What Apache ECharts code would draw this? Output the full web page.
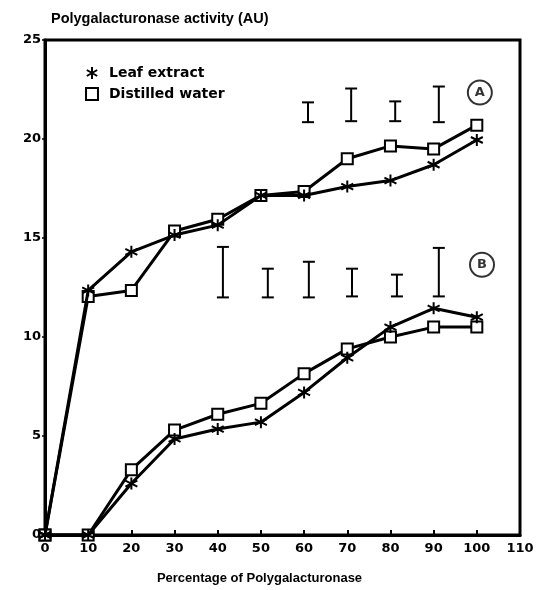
<!DOCTYPE html>
<html>
<head>
<meta charset="utf-8">
<script src="https://cdn.jsdelivr.net/npm/echarts@6/dist/echarts.min.js"></script>
<style>html,body{margin:0;padding:0;background:#fff;}#c{width:543px;height:590px;}</style>
</head>
<body>
<div id="c"></div>
<script>
var xValues = [0, 10, 20, 30, 40, 50, 60, 70, 80, 90, 100];
var leafA  = [0, 12.35, 14.3, 15.15, 15.65, 17.15, 17.15, 17.6, 17.9, 18.7, 19.95];
var waterA = [0, 12.05, 12.35, 15.35, 15.95, 17.15, 17.35, 19.0, 19.65, 19.5, 20.7];
var leafB  = [0, 0, 2.6, 4.85, 5.35, 5.7, 7.2, 8.95, 10.5, 11.45, 11.0];
var waterB = [0, 0, 3.3, 5.3, 6.1, 6.65, 8.15, 9.4, 10.0, 10.5, 10.5];
// error bars: [x, low, high]
var errA = [[60.9, 20.85, 21.85], [70.9, 20.9, 22.55], [81.1, 20.9, 21.9], [91.2, 20.85, 22.65]];
var errB = [[41.2, 12.0, 14.55], [51.6, 12.0, 13.45], [61.1, 12.0, 13.8], [71.1, 12.05, 13.45], [81.5, 12.05, 13.15], [91.2, 12.05, 14.5]];
var groupLabels = [[100.7, 22.35, 'A'], [101.2, 13.65, 'B']];
var xTicks = {min: 0, max: 110, interval: 10};
var yTicks = {min: 0, max: 25, interval: 5};

var star = 'path://M0,-10L0,10M-8.7,-5L8.7,5M-8.7,5L8.7,-5';
function pairs(ys) { return xValues.map(function (x, i) { return [x, ys[i]]; }); }
var font = 'Liberation Sans, Arial, sans-serif';
var heavy = 'DejaVu Sans, Liberation Sans, sans-serif';

function lineSeries(name, ys, symbol) {
  var isStar = symbol === star;
  return {
    name: name, type: 'line', data: pairs(ys),
    symbol: symbol, symbolSize: isStar ? 12 : 11,
    showAllSymbol: true,
    lineStyle: {color: '#000', width: 3},
    itemStyle: {color: isStar ? 'rgba(0,0,0,0)' : '#fff', borderColor: '#000', borderWidth: 2},
    z: isStar ? 4 : 3,
    animation: false
  };
}
function errSeries(data) {
  return {
    type: 'custom', data: data, silent: true, animation: false,
    renderItem: function (params, api) {
      var x = api.value(0);
      var p1 = api.coord([x, api.value(1)]);
      var p2 = api.coord([x, api.value(2)]);
      var w = 6;
      var st = {stroke: '#000', lineWidth: 2};
      return {type: 'group', children: [
        {type: 'line', shape: {x1: p1[0], y1: p1[1], x2: p2[0], y2: p2[1]}, style: st},
        {type: 'line', shape: {x1: p1[0] - w, y1: p1[1], x2: p1[0] + w, y2: p1[1]}, style: st},
        {type: 'line', shape: {x1: p2[0] - w, y1: p2[1], x2: p2[0] + w, y2: p2[1]}, style: st}
      ]};
    }
  };
}

var chart = echarts.init(document.getElementById('c'), null, {renderer: 'canvas'});
chart.setOption({
  backgroundColor: '#fff',
  animation: false,
  title: {
    text: 'Polygalacturonase activity (AU)', left: 46, top: 6,
    textStyle: {fontFamily: font, fontSize: 14.5, fontWeight: 'bold', color: '#000'}
  },
  legend: {
    left: 80, top: 61, orient: 'vertical', itemGap: 7, itemWidth: 12, itemHeight: 12,
    textStyle: {fontFamily: heavy, fontSize: 14, fontWeight: 'bold', color: '#000', padding: [0, 0, 0, 6]},
    data: [
      {name: 'Leaf extract', icon: star, itemStyle: {color: 'rgba(0,0,0,0)', borderColor: '#000', borderWidth: 2}},
      {name: 'Distilled water', icon: 'rect', itemStyle: {color: '#fff', borderColor: '#000', borderWidth: 2}}
    ]
  },
  grid: {left: 45, right: 23, top: 40, bottom: 50, show: true, borderColor: '#000', borderWidth: 3, backgroundColor: 'transparent'},
  xAxis: {
    type: 'value', min: xTicks.min, max: xTicks.max, interval: xTicks.interval,
    name: 'Percentage of Polygalacturonase', nameLocation: 'middle', nameGap: 37,
    nameTextStyle: {fontFamily: font, fontSize: 13, fontWeight: 'bold', color: '#000', padding: [0, 46, 0, 0]},
    axisLine: {lineStyle: {color: '#000', width: 3}},
    axisTick: {inside: true, length: 5, lineStyle: {color: '#000', width: 2}},
    axisLabel: {fontFamily: heavy, fontSize: 13, fontWeight: 'bold', color: '#000', margin: 7},
    splitLine: {show: false}
  },
  yAxis: {
    type: 'value', min: yTicks.min, max: yTicks.max, interval: yTicks.interval,
    axisLine: {lineStyle: {color: '#000', width: 3}},
    axisTick: {inside: false, length: 3, lineStyle: {color: '#000', width: 1.5}},
    axisLabel: {fontFamily: heavy, fontSize: 13, fontWeight: 'bold', color: '#000', margin: 4},
    splitLine: {show: false}
  },
  series: [
    lineSeries('Distilled water', waterA, 'rect'),
    lineSeries('Leaf extract', leafA, star),
    lineSeries('Distilled water', waterB, 'rect'),
    lineSeries('Leaf extract', leafB, star),
    errSeries(errA),
    errSeries(errB),
    {
      type: 'scatter', data: groupLabels, symbol: 'circle', symbolSize: 24, silent: true,
      itemStyle: {color: '#fff', borderColor: '#000', borderWidth: 2},
      label: {show: true, position: 'inside', formatter: function (p) { return p.value[2]; },
        fontFamily: heavy, fontSize: 13, fontWeight: 'bold', color: '#000'},
      animation: false
    }
  ]
});
</script>
</body>
</html>
